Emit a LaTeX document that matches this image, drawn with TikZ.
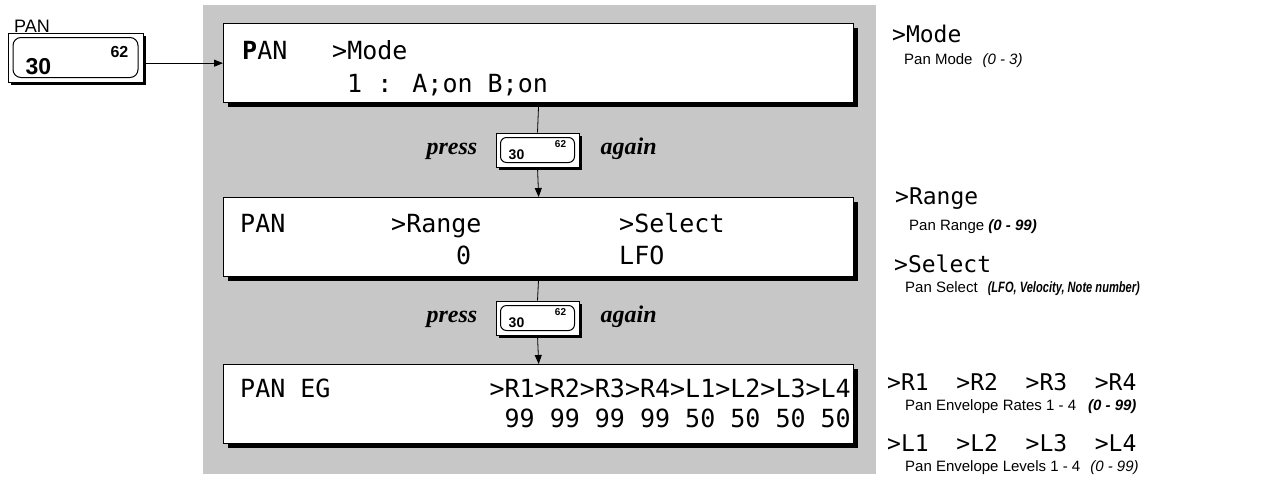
\documentclass[tikz,border=0pt]{standalone}
\usepackage{fontspec}
\setmainfont{Liberation Sans}
\newfontfamily\lcd{DejaVu Sans Mono}
\newfontfamily\tms{Liberation Serif}
\usetikzlibrary{arrows.meta,shadows,calc}
\newcommand\rng[2][1]{\scalebox{#1}[1]{\itshape #2}}
\begin{document}
\begin{tikzpicture}[x=1pt,y=-1pt,
  lcdtxt/.style={font=\lcd\fontsize{25}{25}\selectfont, inner sep=0pt, anchor=base west},
  lcdlbl/.style={font=\lcd\fontsize{23}{23}\selectfont, inner sep=0pt, anchor=base west},
  desc/.style={font=\fontsize{15}{15}\selectfont, inner sep=0pt, anchor=base west},
  screen/.style={draw, line width=1.3pt, fill=white, minimum width=630pt, minimum height=79pt,
    anchor=north west, inner sep=0pt,
    drop shadow={shadow xshift=4pt, shadow yshift=-4pt, fill=black, opacity=1}},
  keyout/.style={draw, line width=1pt, fill=white, inner sep=0pt,
    drop shadow={shadow xshift=2.5pt, shadow yshift=-2.5pt, fill=black, opacity=1}},
  keyin/.style={draw, line width=1pt, rounded corners=6pt, inner sep=0pt},
  keynum/.style={font=\bfseries\fontsize{#1}{#1}\selectfont, inner sep=0pt},
  word/.style={font=\tms\bfseries\itshape\fontsize{24}{24}\selectfont, inner sep=0pt},
  arr/.style={-{Triangle[length=9pt,width=7pt]}, line width=0.8pt},
  link/.style={line width=0.8pt}]
\useasboundingbox (0,0) rectangle (1283,483);
% shaded panel
\fill[black!22] (203,5) rectangle (876,474);

% left key
\node[desc, font=\fontsize{18}{18}\selectfont, anchor=base west] (panlbl) at (14,32) {PAN};
\node[keyout, minimum width=135pt, minimum height=49pt] (bigkey) at (75.5,57.5) {};
\node[keyin, rounded corners=8pt, minimum width=125pt, minimum height=40pt] (bigkeyin) at (bigkey) {};
\node[keynum=16] (bk62) at ($(bigkey.center)+(44,-5.5)$) {62};
\node[keynum=23] (bk30) at ($(bigkey.center)+(-37,9)$) {30};

% screens
\node[screen] (s1) at (223,23) {};
\node[screen] (s2) at (223,197) {};
\node[screen] (s3) at (223,364) {};

% screen 1 text
\node[lcdtxt] (t1a) at (242,59) {{\bfseries P}AN};
\node[lcdtxt] (t1b) at (332,59) {>Mode};
\node[lcdtxt] (t1c) at (347,92) {1 : A;on B;on};
% screen 2 text
\node[lcdtxt] (t2a) at (240,232) {PAN};
\node[lcdtxt] (t2b) at (391,232) {>Range};
\node[lcdtxt] (t2c) at (619,232) {>Select};
\node[lcdtxt] (t2d) at (456,264) {0};
\node[lcdtxt] (t2e) at (619,264) {LFO};
% screen 3 text
\node[lcdtxt] (t3a) at (240,397) {PAN EG};
\node[lcdtxt, anchor=base east] (t3b) at (851,397) {>R1>R2>R3>R4>L1>L2>L3>L4};
\node[lcdtxt, anchor=base east] (t3c) at (851,427) {99 99 99 99 50 50 50 50};

% press keys
\node[keyout, minimum width=83pt, minimum height=34pt] (k1) at (537.5,150) {};
\node[keyin, minimum width=74pt, minimum height=25pt] (k1i) at (k1) {};
\node[keynum=14] (k1a) at ($(k1.center)+(-21,5)$) {30};
\node[keynum=10] (k1b) at ($(k1.center)+(23,-6)$) {62};
\node[word, anchor=mid east] (p1) at ($(k1.west)+(-18,2)$) {press};
\node[word, anchor=mid west] (a1) at ($(k1.east)+(21,2)$) {again};

\node[keyout, minimum width=83pt, minimum height=34pt] (k2) at (537.5,318) {};
\node[keyin, minimum width=74pt, minimum height=25pt] (k2i) at (k2) {};
\node[keynum=14] (k2a) at ($(k2.center)+(-21,5)$) {30};
\node[keynum=10] (k2b) at ($(k2.center)+(23,-6)$) {62};
\node[word, anchor=mid east] (p2) at ($(k2.west)+(-18,2)$) {press};
\node[word, anchor=mid west] (a2) at ($(k2.east)+(21,2)$) {again};

% connectors
\draw[arr] (bigkey.east |- s1.west) -- (s1.west);
\draw[link] (s1.south) -- (k1.north);
\draw[arr] (k1.south) -- (s2.north);
\draw[link] (s2.south) -- (k2.north);
\draw[arr] (k2.south) -- (s3.north);

% right column
\node[lcdlbl] (r1) at (892,42) {>Mode};
\node[desc] (r1d) at (904,64) {Pan Mode\hspace{10pt}\rng{(0 - 3)}};
\node[lcdlbl] (r2) at (895,204) {>Range};
\node[desc] (r2d) at (909,230) {Pan Range \rng{\bfseries(0 - 99)}};
\node[lcdlbl] (r3) at (894,272) {>Select};
\node[desc] (r3d) at (905,292) {Pan Select\hspace{10pt}\rng[0.74]{\bfseries(LFO, Velocity, Note number)}};
\node[lcdlbl] (r4) at (887,390) {>R1\ \ >R2\ \ >R3\ \ >R4};
\node[desc] (r4d) at (905,410) {Pan Envelope Rates 1 - 4\hspace{12pt}\rng{\bfseries(0 - 99)}};
\node[lcdlbl] (r5) at (887,451) {>L1\ \ >L2\ \ >L3\ \ >L4};
\node[desc] (r5d) at (905,471) {Pan Envelope Levels 1 - 4\hspace{10pt}\rng{(0 - 99)}};
\end{tikzpicture}
\end{document}
